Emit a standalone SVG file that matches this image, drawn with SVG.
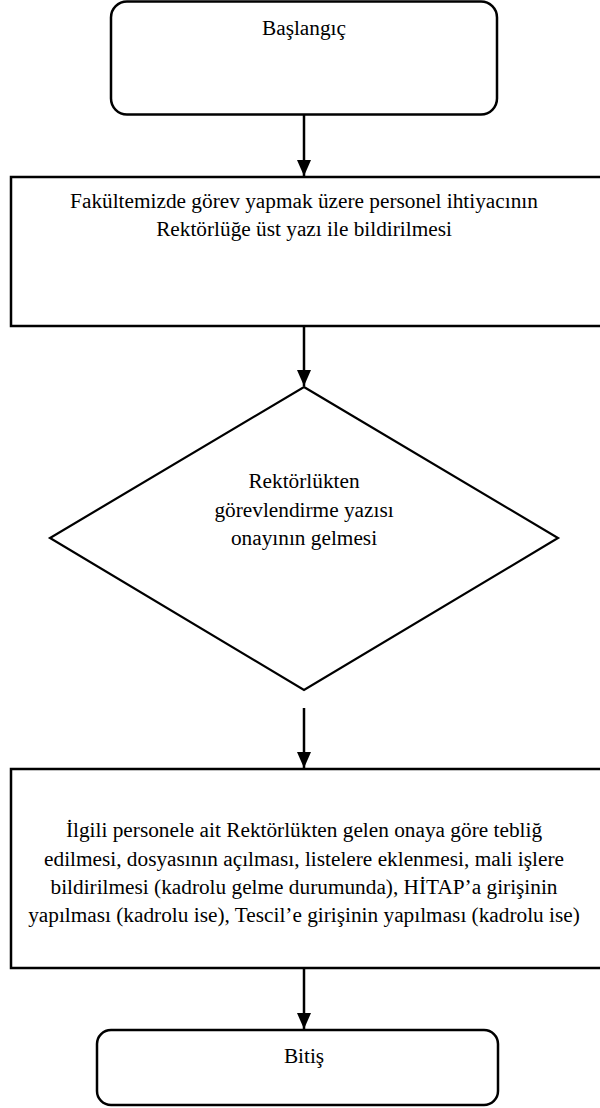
<svg xmlns="http://www.w3.org/2000/svg" width="600" height="1108" viewBox="0 0 600 1108">
<style>
.box{fill:#fff;stroke:#000;stroke-width:2.5}
.dia{fill:#fff;stroke:#000;stroke-width:2.2}
.con{fill:none;stroke:#000;stroke-width:2.5}
.t{font-family:"Liberation Serif","Times New Roman",serif;font-size:21.3px;fill:#000;text-anchor:middle}
</style>
<defs>
<marker id="arr" markerWidth="16" markerHeight="14" refX="16" refY="7" orient="auto" markerUnits="userSpaceOnUse" viewBox="0 0 16 14">
<path d="M0,0 L16,7 L0,14 Z" fill="#000"/>
</marker>
</defs>
<rect width="600" height="1108" fill="#fff"/>
<g id="start">
<rect class="box" x="111" y="1.5" width="386" height="113" rx="16"/>
<text class="t" x="304" y="35">Başlangıç</text>
</g>
<g id="step1">
<rect class="box" x="11" y="177" width="600" height="149"/>
<text class="t" x="304" y="208">Fakültemizde görev yapmak üzere personel ihtiyacının</text>
<text class="t" x="304" y="236">Rektörlüğe üst yazı ile bildirilmesi</text>
</g>
<g id="decision">
<polygon class="dia" points="304,387 558,538 304,690 50,538"/>
<text class="t" x="304" y="488">Rektörlükten</text>
<text class="t" x="304" y="517">görevlendirme yazısı</text>
<text class="t" x="304" y="545">onayının gelmesi</text>
</g>
<g id="step2">
<rect class="box" x="11" y="769" width="600" height="199"/>
<text class="t" x="304" y="837">İlgili personele ait Rektörlükten gelen onaya göre tebliğ</text>
<text class="t" x="304" y="866">edilmesi, dosyasının açılması, listelere eklenmesi, mali işlere</text>
<text class="t" x="304" y="894">bildirilmesi (kadrolu gelme durumunda), HİTAP’a girişinin</text>
<text class="t" x="304" y="922">yapılması (kadrolu ise), Tescil’e girişinin yapılması (kadrolu ise)</text>
</g>
<g id="end">
<rect class="box" x="97" y="1030" width="401" height="75" rx="14"/>
<text class="t" x="304" y="1063">Bitiş</text>
</g>
<g id="connectors">
<line class="con" x1="304" y1="115" x2="304" y2="176" marker-end="url(#arr)"/>
<line class="con" x1="304" y1="326" x2="304" y2="386" marker-end="url(#arr)"/>
<line class="con" x1="304" y1="708" x2="304" y2="768" marker-end="url(#arr)"/>
<line class="con" x1="304" y1="968" x2="304" y2="1029" marker-end="url(#arr)"/>
</g>
</svg>
